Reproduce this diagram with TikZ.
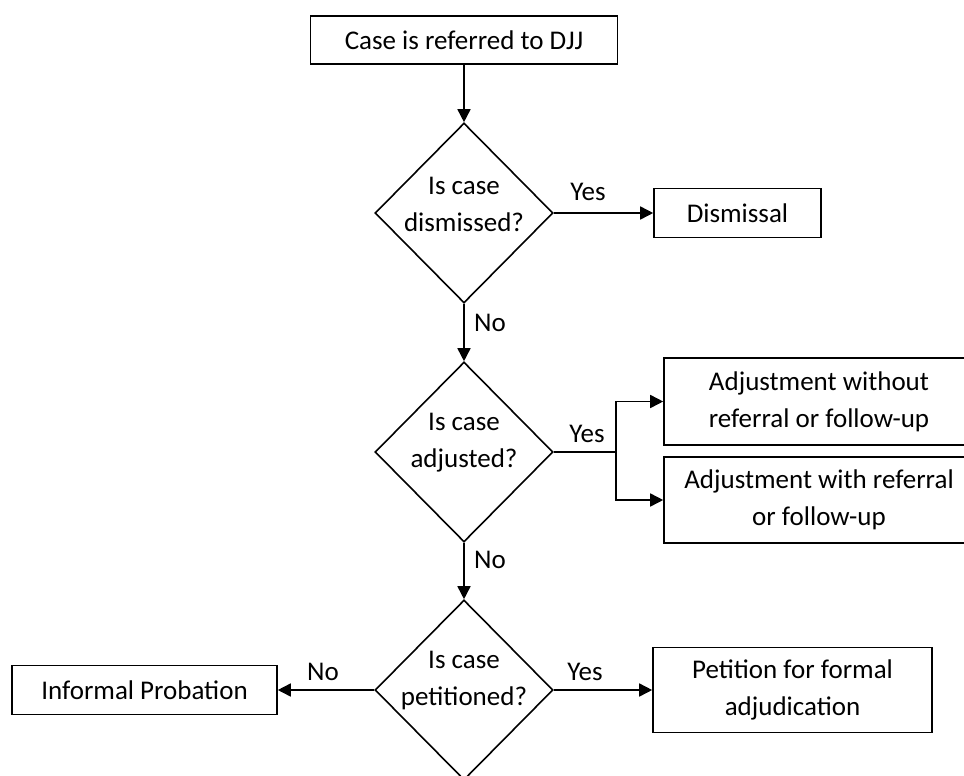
\documentclass[tikz,border=0pt]{standalone}
\usepackage{fontspec}
\setmainfont{Carlito}
\usepackage{tikz}
\usetikzlibrary{shapes.geometric,arrows.meta}

\begin{document}
\begin{tikzpicture}[x=0.5pt,y=-0.5pt,
  font=\fontsize{13.5}{18.5}\selectfont,
  box/.style={draw,line width=0.8pt,inner sep=0pt,align=center},
  ask/.style={draw,diamond,line width=0.8pt,inner sep=0pt,
    minimum width=89pt,minimum height=90pt},
  asktext/.style={align=center,inner sep=0pt,yshift=4.5pt},
  arr/.style={line width=0.8pt,-{Triangle[length=6.5pt,width=6.5pt]}},
  lbl/.style={inner sep=0pt}]
\useasboundingbox (0,0) rectangle (964,776);
\node [box,minimum width=153.5pt,minimum height=24pt] (refer) at (464,40) {Case is referred to DJJ};
\node [ask,label={[asktext]center:{Is case\\dismissed?}}] (dismiss) at (464,213) {};
\node [box,minimum width=83.5pt,minimum height=24.5pt] (dismissal) at (737.5,213) {Dismissal};
\node [ask,label={[asktext]center:{Is case\\adjusted?}}] (adjust) at (464,452) {};
\node [box,minimum width=155pt,minimum height=43.5pt] (adjwo) at (819,401.5) {Adjustment without\\referral or follow-up};
\node [box,minimum width=155pt,minimum height=43pt] (adjw) at (819,500) {Adjustment with referral\\or follow-up};
\node [ask,label={[asktext]center:{Is case\\petitioned?}}] (petition) at (464,690) {};
\node [box,minimum width=132.5pt,minimum height=24.5pt] (informal) at (144.5,690) {Informal Probation};
\node [box,minimum width=139.5pt,minimum height=42.5pt] (formal) at (792.5,690) {Petition for formal\\adjudication};
\coordinate (fork) at (616,452);
% connectors
\draw [arr] (refer) -- (dismiss.north);
\draw [arr] (dismiss.east) -- (dismissal);
\draw [arr] (dismiss.south) -- (adjust.north);
\draw [line width=0.8pt] (adjust.east) -- (fork);
\draw [arr] (fork) |- (adjwo.west);
\draw [arr] (fork) |- (adjw.west);
\draw [arr] (adjust.south) -- (petition.north);
\draw [arr] (petition.west) -- (informal);
\draw [arr] (petition.east) -- (formal);
% labels
\node [lbl] (yes1) at (588,192) {Yes};
\node [lbl] (no1) at (490,323) {No};
\node [lbl] (yes2) at (587,434) {Yes};
\node [lbl] (no2) at (490,560) {No};
\node [lbl] (no3) at (323,672) {No};
\node [lbl] (yes3) at (585,672) {Yes};
\end{tikzpicture}
\end{document}
